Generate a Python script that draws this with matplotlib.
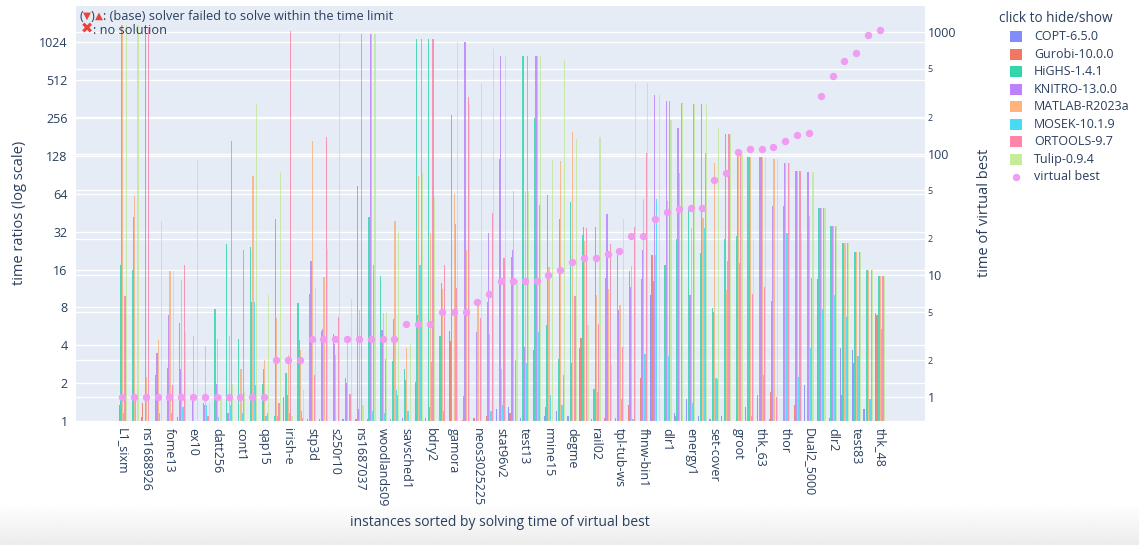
import matplotlib
matplotlib.use("Agg")
import matplotlib.pyplot as plt
import matplotlib.transforms as mtransforms
from matplotlib.lines import Line2D
from matplotlib.patches import Rectangle
from matplotlib.ticker import NullLocator, FixedLocator
import numpy as np

plt.rcParams['font.family'] = ['Open Sans', 'DejaVu Sans']

W, H = 1139, 545
TXT = '#2a3f5f'

solvers = ['COPT-6.5.0', 'Gurobi-10.0.0', 'HiGHS-1.4.1', 'KNITRO-13.0.0',
           'MATLAB-R2023a', 'MOSEK-10.1.9', 'ORTOOLS-9.7', 'Tulip-0.9.4']
colors = ['#636EFA', '#EF553B', '#00CC96', '#AB63FA',
          '#FFA15A', '#19D3F3', '#FF6692', '#B6E880']

# instances sorted by virtual best time (only every other one gets a tick label)
instances = ['L1_sixm', 'Linf_520c', 'ns1688926', 'a2864', 'fome13', 'graph40-40',
             'ex10', 'nug08-3rd', 'datt256', 'rail4284', 'cont1', 'cont11',
             'qap15', 'neos3', 'irish-e', 'pds-100', 'stp3d', 's82',
             's250r10', 'shs1023', 'ns1687037', 'square41', 'woodlands09', 'stormG2',
             'savsched1', 'supportcase10', 'bdry2', 'ts-palko', 'gamora', 'physiciansch',
             'neos3025225', 'neos-5052403', 'stat96v2', 's100', 'test13', 'scpm1',
             'rmine15', 'test03', 'degme', 'neos-5251015', 'rail02', 'L2CTA3D',
             'tpl-tub-ws', 'test23', 'fhnw-bin1', 'Primal2_1000', 'dlr1', 'energy2',
             'energy1', 'tp-6', 'set-cover', 'neos', 'groot', 'karted',
             'thk_63', 'dbic1', 'thor', 'nug30', 'Dual2_5000', 'zib03',
             'dlr2', 'self', 'test83', 'L1_sixm1000', 'thk_48']

# time ratios per solver (1 = virtual best)
copt = [1, 1, 1.08, 1, 1, 1.08, 1, 1, 1, 1, 1, 1, 1, 1, 1.55, 1, 1.03, 1.03, 1, 1.03,
        1, 1, 1, 1.03, 1.05, 1, 1.05, 1, 5.2, 1, 1.05, 1, 1.25, 1.3, 1.05, 1, 1.1, 1.2,
        1.1, 3.8, 1.03, 1, 1.05, 1, 1, 10, 1, 1.15, 1.5, 1.1, 1.03, 1.1, 1, 1.3, 1.6,
        1.03, 1, 1, 1.95, 1, 1, 3.8, 3.7, 1.25, 7.2]
gurobi = [1.35, 1, 1.4, 1, 1, 1, 1, 1, 1, 1, 1, 1, 1, 1, 1, 1, 1, 1, 1, 1,
          1.03, 1.03, 1, 1, 1, 2.05, 1, 1, 4.3, 1.02, 1.05, 1.1, 1, 1.15, 1, 3.7, 1.3, 1,
          1, 4.6, 1, 1.05, 1, 1.35, 2.2, 21, 1, 1.1, 1, 1, 1, 1, 1, 1, 1,
          1.7, 1, 1.35, 1, 13.5, 1.05, 1.6, 2.9, 1, 6.9]
highs = [17.5, 16, 1, 2.3, 2.64, 6.0, 1, 1.4, 7.8, 25.7, 4.5, 24, 1.98, 1.1, 2.4, 8.7,
         10.3, 5.2, 4.9, 2.2, 74, 42, 14.3, 3.0, 2.6, 1097, 1097, 4.75, 270, 1.58, 1,
         8.9, 122, 20, 797, 256, 5.8, 3.1, 55.5, 30, 1.8, 13.8, 21, 15.5, 13.5, 13,
         17.3, 28, 49.6, 21.5, 7.9, 28, 29.5, 125, 125, 9, 51.5, 98, 96, 49, 35.5,
         26, 22, 16, 14.3]
knitro = [1400, 42, 1400, 3.5, 7, 2.6, 1.58, 1.35, 1.98, 1.15, 1, 8.9, 2.6, 40, 1.6,
          4.4, 18.8, 5.4, 4.1, 2.0, 1.25, 1185, 5.3, 6.5, 2.1, 6.9, 1.3, 12.5, 1, 1024,
          5.1, 31, 797, 23, 3.9, 797, 63, 40, 2.9, 35, 35, 44, 7.6, 11.7, 23, 390,
          352, 214, 10, 330, 7.4, 190, 132, 125, 125, 51.5, 112, 98, 96, 49, 35.5,
          26, 22, 16, 14.3]
matlab = [1400, 62, 2.25, 4.4, 15.5, 13.3, 4.7, 3.96, 4.5, 4.75, 2.6, 89, 3.06, 6.6,
          3.35, 3.7, 168, 13.9, 3.35, 4.3, 7.6, 1185, 7.2, 39, 3.8, 89, 31, 11.2, 64,
          22.7, 8.2, 4.9, 2.6, 67.5, 67.5, 797, 16.7, 116, 200, 27, 10, 11.2, 8.4, 17,
          58.5, 21, 56, 93, 34.5, 41, 112, 11, 132, 125, 125, 121, 112, 98, 43, 49,
          35.5, 26, 22, 16, 14.3]
mosek = [1.15, 1.6, 1, 1.15, 1.15, 1.3, 1, 1.35, 1.08, 1.35, 1.15, 8.9, 1.1, 1.1, 1.15,
         1.2, 1, 1, 1, 1, 1, 1.2, 1.15, 1.75, 1.2, 17.3, 2.95, 1.2, 36.6, 1, 1, 1.2,
         1.35, 1, 2.9, 5.1, 1.6, 1.35, 1, 1, 1.7, 1, 1.5, 1.03, 3.4, 58, 3.3, 1, 1.4,
         34.5, 2.2, 18.6, 18, 1.1, 2.3, 1, 31.5, 2.25, 3.8, 7.8, 10, 6.7, 3.3, 1.5, 5.4]
ortools = [9.8, 1, 1350, 1, 1.95, 17.5, 1, 1.1, 1, 168, 22.7, 1.95, 1.15, 1.4, 1260,
           1.05, 2.3, 180, 6.7, 1.65, 1185, 17.5, 3.1, 1.6, 1, 1097, 1097, 17.5, 11.5,
           378, 6.6, 45, 19.7, 3.06, 797, 52, 1, 2.3, 9.8, 34, 5.9, 25.7, 3.9, 35, 135,
           1, 352, 340, 333, 135, 2.15, 190, 132, 10.2, 11.7, 1.55, 112, 98, 13.7, 49,
           35.5, 26, 22, 16, 14.3]
tulip = [1400, 1400, 1, 38.7, 15.5, 5.1, 118, 1.4, 1.6, 1.98, 1.7, 333, 10, 95, 1.1,
         1.75, 11.5, 23.5, 1185, 9.3, 1.35, 1185, 7.4, 32, 4.1, 93, 60, 1, 1024, 330,
         483, 900, 797, 13.1, 67.5, 797, 118, 735, 174, 5.8, 180, 2.8, 40, 490, 490,
         390, 245, 340, 333, 333, 214, 190, 132, 28, 125, 121, 112, 31, 96, 49, 35.5,
         26, 22, 16, 14.3]

# solving time of the virtual best (right axis)
vbest = [1, 1, 1, 1, 1, 1, 1, 1, 1, 1, 1, 1, 1, 2, 2, 2, 3, 3, 3, 3, 3, 3, 3, 3,
         4, 4, 4, 5, 5, 5, 6, 7, 9, 9, 9, 9, 10, 11, 13, 14, 14, 15, 16, 21, 21,
         29, 33, 35, 36, 36, 61, 70, 104, 109, 109, 114, 127, 143, 147, 298, 436,
         579, 678, 942, 1042]

ratios = [copt, gurobi, highs, knitro, matlab, mosek, ortools, tulip]
VB_COLOR = '#F09CF0'


def fx(px):
    return px / W


def fy(py):
    return 1 - py / H


fig = plt.figure(figsize=(W / 100, H / 100), dpi=100)

# light grey shade along the bottom edge
shade = fig.add_axes([0, 0, 1, 42 / H], zorder=-10)
grad = np.linspace(1.0, 0.925, 50)[:, None] * np.ones((50, 10))
shade.imshow(grad, cmap='gray', vmin=0, vmax=1, aspect='auto',
             extent=[0, 1, 1, 0])
shade.set_axis_off()

ax = fig.add_axes([fx(76), fy(421), (925 - 76) / W, (421 - 6) / H])
ax.set_facecolor('#E5ECF6')
for s in ax.spines.values():
    s.set_visible(False)

x = np.arange(len(instances))
bw = 0.1
for j, (name, vals) in enumerate(zip(solvers, ratios)):
    v = np.array(vals, dtype=float)
    ax.bar(x - 0.35 + bw * j, v - 1, bottom=1, width=bw, color=colors[j],
           alpha=0.65, linewidth=0, zorder=2)

ax.set_yscale('log', base=2)
ax.set_ylim(1, 1990)
ax.set_xlim(-3.89, 67.8)
lticks = [2 ** k for k in range(11)]
ax.yaxis.set_major_locator(FixedLocator(lticks))
ax.yaxis.set_minor_locator(NullLocator())
ax.set_yticklabels([str(t) for t in lticks])
ax.yaxis.grid(True, color='white', linewidth=1.0, zorder=0)
ax.set_axisbelow(True)
ax.tick_params(axis='y', length=0, pad=6, labelsize=9, labelcolor=TXT)

ax.set_xticks(x[::2])
ax.set_xticklabels(instances[::2], rotation=-90)
ax.tick_params(axis='x', length=0, pad=5, labelsize=9, labelcolor=TXT)

ax2 = ax.twinx()
for s in ax2.spines.values():
    s.set_visible(False)
ax2.set_yscale('log')
ax2.set_ylim(0.635, 1641)
major = [1, 10, 100, 1000]
minor = [2, 5, 20, 50, 200, 500]
ax2.yaxis.set_major_locator(FixedLocator(major))
ax2.yaxis.set_minor_locator(FixedLocator(minor))
ax2.set_yticklabels([str(t) for t in major])
ax2.set_yticklabels([str(t)[0] for t in minor], minor=True)
ax2.tick_params(axis='y', which='major', length=0, pad=2, labelsize=9, labelcolor=TXT)
ax2.tick_params(axis='y', which='minor', length=0, pad=2, labelsize=6.5, labelcolor=TXT)

# right axis grid lines drawn under the bars
blend = mtransforms.blended_transform_factory(ax.transAxes, ax2.transData)
for t in major + minor:
    ax.add_line(Line2D([0, 1], [t, t], transform=blend, color='white',
                       linewidth=1.0, zorder=0.5))

ax2.plot(x, vbest, 'o', color=VB_COLOR, markersize=4.3, linestyle='none', zorder=3)

# axis titles
fig.text(fx(20), fy(213), 'time ratios (log scale)', rotation=90,
         ha='center', va='center', size=10.5, color=TXT)
fig.text(fx(985), fy(213), 'time of virtual best', rotation=90,
         ha='center', va='center', size=10.5, color=TXT)
fig.text(fx(500), fy(522), 'instances sorted by solving time of virtual best',
         ha='center', va='center', size=10, color=TXT)

# note in the top left corner
renderer = fig.canvas.get_renderer()


def colored_line(x0, y0, parts):
    xp = x0
    for txt, col, sz in parts:
        t = fig.text(fx(xp), fy(y0), txt, color=col, ha='left', va='center',
                     size=sz, zorder=5)
        bb = t.get_window_extent(renderer)
        xp += bb.width


red = '#E8443A'
colored_line(79, 16, [('(', TXT, 9.2), ('▼', red, 7.5), (')', TXT, 9.2), ('▲', red, 7.5),
                      (': (base) solver failed to solve within the time limit', TXT, 9.2)])
colored_line(81, 30, [('✖', red, 10.5), (': no solution', TXT, 9.2)])

# legend
fig.text(fx(999), fy(18), 'click to hide/show', ha='left', va='center',
         size=9.8, color=TXT)
for j, name in enumerate(solvers):
    yc = 36.7 + 17.5 * j
    fig.add_artist(Rectangle((fx(1010), fy(yc + 5.5)), 12 / W, 11 / H,
                             transform=fig.transFigure, color=colors[j],
                             alpha=0.8, linewidth=0))
    fig.text(fx(1034), fy(yc), name, ha='left', va='center', size=9, color=TXT)
yc = 36.7 + 17.5 * len(solvers)
fig.add_artist(Line2D([fx(1016)], [fy(yc)], marker='o', markersize=4.3,
                      color=VB_COLOR, linestyle='none', transform=fig.transFigure))
fig.text(fx(1034), fy(yc), 'virtual best', ha='left', va='center', size=9, color=TXT)

fig.savefig('out.png', dpi=100)
